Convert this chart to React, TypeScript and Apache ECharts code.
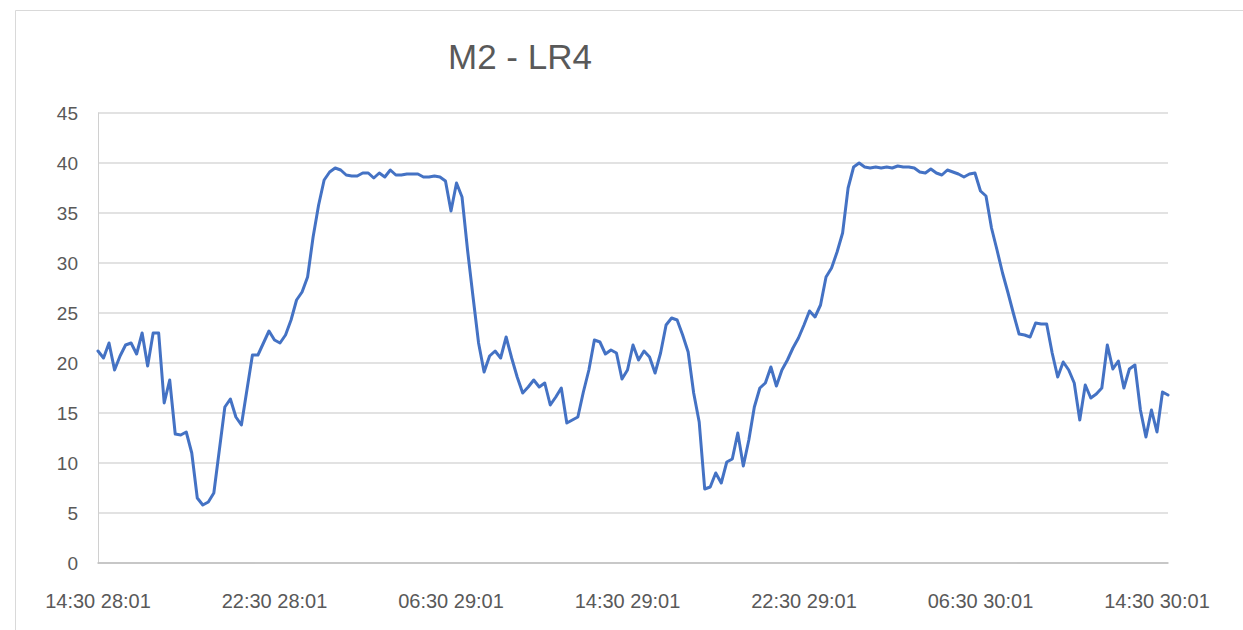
import React, { useEffect, useRef } from "react";
import * as echarts from "echarts";

const titleText = "M2 - LR4";

// 15-minute readings from 14:30 28/01 to 15:00 30/01
const startDay = 28;
const startMinutes = 14 * 60 + 30;
const stepMinutes = 15;

const values: number[] = [
  // 0-25
  21.2, 20.5, 22.0, 19.3, 20.7, 21.8, 22.0, 20.9, 23.0, 19.7, 23.0, 23.0, 16.0,
  18.3, 12.9, 12.8, 13.1, 11.0, 6.5, 5.8, 6.1, 7.0, 11.3, 15.6, 16.4, 14.6,
  // 26-49
  13.8, 17.3, 20.8, 20.8, 22.0, 23.2, 22.3, 22.0, 22.8, 24.3, 26.3, 27.1, 28.6,
  32.6, 35.8, 38.3, 39.1, 39.5, 39.3, 38.8, 38.7, 38.7, 39.0, 39.0,
  // 50-74
  38.5, 39.0, 38.6, 39.3, 38.8, 38.8, 38.9, 38.9, 38.9, 38.6, 38.6, 38.7, 38.6,
  38.2, 35.2, 38.0, 36.6, 31.3, 26.6, 22.0, 19.1, 20.7, 21.2, 20.5, 22.6,
  // 75-100
  20.5, 18.6, 17.0, 17.6, 18.3, 17.6, 18.0, 15.8, 16.6, 17.5, 14.0, 14.3, 14.6,
  17.1, 19.3, 22.3, 22.1, 20.9, 21.3, 21.0, 18.4, 19.3, 21.8, 20.3, 21.2, 20.6,
  // 101-126
  19.0, 21.0, 23.8, 24.5, 24.3, 22.8, 21.1, 17.0, 14.1, 7.4, 7.6, 9.0, 8.0,
  10.1, 10.4, 13.0, 9.7, 12.3, 15.6, 17.5, 18.0, 19.6, 17.7, 19.3, 20.3, 21.5,
  // 127-151
  22.5, 23.8, 25.2, 24.6, 25.8, 28.6, 29.5, 31.1, 33.0, 37.5, 39.6, 40.0, 39.6,
  39.5, 39.6, 39.5, 39.6, 39.5, 39.7, 39.6, 39.6, 39.5, 39.1, 39.0, 39.4,
  // 152-176
  39.0, 38.8, 39.3, 39.1, 38.9, 38.6, 38.9, 39.0, 37.2, 36.7, 33.5, 31.3, 29.0,
  27.0, 24.9, 22.9, 22.8, 22.6, 24.0, 23.9, 23.9, 21.0, 18.6, 20.1, 19.3,
  // 177-194
  18.0, 14.3, 17.8, 16.5, 16.9, 17.5, 21.8, 19.4, 20.2, 17.5, 19.4, 19.8, 15.3,
  12.6, 15.3, 13.1, 17.1, 16.8,
];

const pad = (n: number) => (n < 10 ? "0" + n : "" + n);

const categories: string[] = values.map((_, i) => {
  const total = startMinutes + i * stepMinutes;
  const day = startDay + Math.floor(total / 1440);
  const m = total % 1440;
  return `${pad(Math.floor(m / 60))}:${pad(m % 60)} ${pad(day)}:01`;
});

const FONT = "'Liberation Sans', Arial, sans-serif";

export default function App() {
  const ref = useRef<HTMLDivElement>(null);
  useEffect(() => {
    document.body.style.margin = "0";
    if (!ref.current) return;
    const chart = echarts.init(ref.current, null, { renderer: "svg" });
    chart.setOption({
      animation: false,
      backgroundColor: "#ffffff",
      graphic: [
        {
          type: "rect",
          shape: { x: 15.5, y: 10.5, width: 1240, height: 640 },
          style: { fill: "none", stroke: "#d9d9d9", lineWidth: 1 },
          silent: true,
        },
      ],
      title: {
        text: titleText,
        left: 448,
        top: 39,
        padding: 0,
        textStyle: {
          fontFamily: FONT,
          fontSize: 35,
          fontWeight: "normal",
          color: "#595959",
        },
      },
      grid: { left: 98, right: 75, top: 113, bottom: 67, containLabel: false },
      xAxis: {
        type: "category",
        data: categories,
        boundaryGap: false,
        axisLine: { show: true, lineStyle: { color: "#bfbfbf", width: 1.5 } },
        axisTick: { show: false },
        axisLabel: {
          interval: 31,
          margin: 28,
          color: "#595959",
          fontSize: 20,
          fontFamily: FONT,
        },
        splitLine: { show: false },
      },
      yAxis: {
        type: "value",
        min: 0,
        max: 45,
        interval: 5,
        axisLine: { show: true, lineStyle: { color: "#d0d0d0", width: 1 } },
        axisTick: { show: false },
        axisLabel: {
          margin: 20,
          color: "#595959",
          fontSize: 19,
          fontFamily: FONT,
        },
        splitLine: { show: true, lineStyle: { color: "#d9d9d9", width: 1.5 } },
      },
      series: [
        {
          type: "line",
          data: values,
          symbol: "none",
          smooth: false,
          lineStyle: { color: "#4472c4", width: 3, join: "round", cap: "round" },
        },
      ],
    });
    return () => chart.dispose();
  }, []);
  return <div ref={ref} style={{ width: 1243, height: 630 }} />;
}
